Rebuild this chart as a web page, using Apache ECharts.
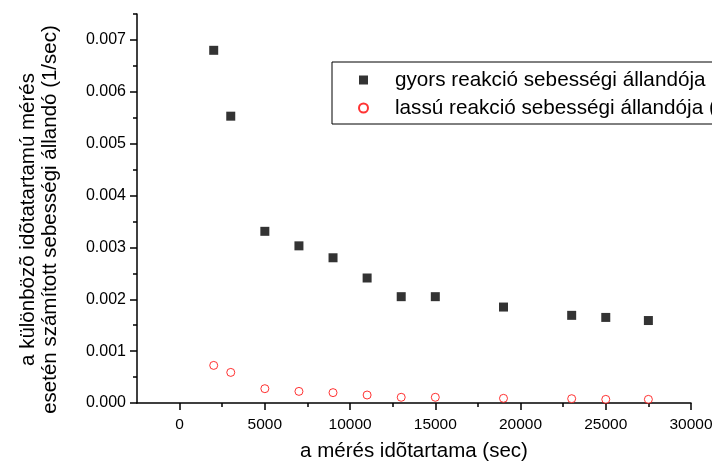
<!DOCTYPE html>
<html>
<head>
<meta charset="utf-8">
<script src="https://cdn.jsdelivr.net/npm/echarts@6/dist/echarts.min.js"></script>
<style>
html,body{margin:0;padding:0;background:#fff;}
#chart{width:712px;height:462px;}
</style>
</head>
<body>
<div id="chart"></div>
<script>
const xValues = [2000, 3000, 5000, 7000, 9000, 11000, 13000, 15000, 19000, 23000, 25000, 27500];
const gyors = [0.0068, 0.00553, 0.00331, 0.00303, 0.0028, 0.00241, 0.00205, 0.00205, 0.00185, 0.00169, 0.00165, 0.00159];
const lassu = [0.000725, 0.00059, 0.000276, 0.000224, 0.0002, 0.000154, 0.00011, 0.00011, 0.00009, 0.000083, 0.00007, 0.00007];
const xMajorTicks = [0, 5000, 10000, 15000, 20000, 25000, 30000];
const xMinorTicks = [2500, 7500, 12500, 17500, 22500, 27500];
const yMajorTicks = [0, 0.001, 0.002, 0.003, 0.004, 0.005, 0.006, 0.007];
const yMinorTicks = [0.0005, 0.0015, 0.0025, 0.0035, 0.0045, 0.0055, 0.0065, 0.0075];
const seriesNames = ['gyors reakció sebességi állandója (1/sec)', 'lassú reakció sebességi állandója (1/sec)'];
const xTitle = 'a mérés idõtartama (sec)';
const yTitle = 'a különbözõ idõtatartamú mérés\nesetén számított sebességi állandó (1/sec)';

const FONT = '"Liberation Sans", Arial, sans-serif';
const chart = echarts.init(document.getElementById('chart'), null, {renderer: 'canvas'});
const lineStyle = {color: '#000', width: 1.5};
const xMin = -2500, xMax = 30000, yMin = 0, yMax = 0.0075;

chart.setOption({
  backgroundColor: '#fff',
  animation: false,
  textStyle: {fontFamily: FONT, color: '#000'},
  grid: {left: 137, right: 21, top: 14, bottom: 59, containLabel: false, outerBoundsMode: 'none'},
  legend: {
    left: 332, top: 62,
    orient: 'vertical',
    borderColor: '#000', borderWidth: 1,
    padding: [7, 40, 5, 26],
    itemWidth: 9, itemHeight: 9, itemGap: 6,
    textStyle: {fontFamily: FONT, fontSize: 20.7, color: '#000', lineHeight: 22, padding: [0, 0, 0, 22]},
    data: seriesNames
  },
  xAxis: [{
    type: 'value', min: xMin, max: xMax,
    name: xTitle, nameLocation: 'middle', nameGap: 38,
    nameTextStyle: {fontFamily: FONT, fontSize: 20.5, color: '#000'},
    axisLine: {show: true, onZero: false, lineStyle: lineStyle},
    axisTick: {show: true, length: 7, customValues: xMajorTicks, lineStyle: lineStyle},
    axisLabel: {customValues: xMajorTicks, margin: 14, fontFamily: FONT, fontSize: 15.5, color: '#000',
      formatter: v => String(v)},
    splitLine: {show: false}
  }, {
    type: 'value', min: xMin, max: xMax, position: 'bottom',
    axisLine: {show: false},
    axisTick: {show: true, length: 4, customValues: xMinorTicks, lineStyle: lineStyle},
    axisLabel: {show: false},
    splitLine: {show: false}
  }],
  yAxis: [{
    type: 'value', min: yMin, max: yMax,
    name: yTitle, nameLocation: 'middle', nameGap: 76,
    nameTextStyle: {fontFamily: FONT, fontSize: 20.5, color: '#000', lineHeight: 22, padding: [0, 22, 0, 0]},
    axisLine: {show: true, onZero: false, lineStyle: lineStyle},
    axisTick: {show: true, length: 7, customValues: yMajorTicks, lineStyle: lineStyle},
    axisLabel: {customValues: yMajorTicks, margin: 11, fontFamily: FONT, fontSize: 16, color: '#000',
      formatter: v => v.toFixed(3)},
    splitLine: {show: false}
  }, {
    type: 'value', min: yMin, max: yMax, position: 'left',
    axisLine: {show: false, onZero: false},
    axisTick: {show: true, length: 4, customValues: yMinorTicks, lineStyle: lineStyle},
    axisLabel: {show: false},
    splitLine: {show: false}
  }],
  series: [{
    name: seriesNames[0], type: 'scatter', xAxisIndex: 0, yAxisIndex: 0,
    symbol: 'rect', symbolSize: 9,
    itemStyle: {color: '#000'},
    data: xValues.map((x, i) => [x, gyors[i]])
  }, {
    name: seriesNames[1], type: 'scatter', xAxisIndex: 0, yAxisIndex: 0,
    symbol: 'circle', symbolSize: 8,
    itemStyle: {color: '#fff', borderColor: '#ff0000', borderWidth: 1},
    data: xValues.map((x, i) => [x, lassu[i]])
  }]
});
</script>
</body>
</html>
